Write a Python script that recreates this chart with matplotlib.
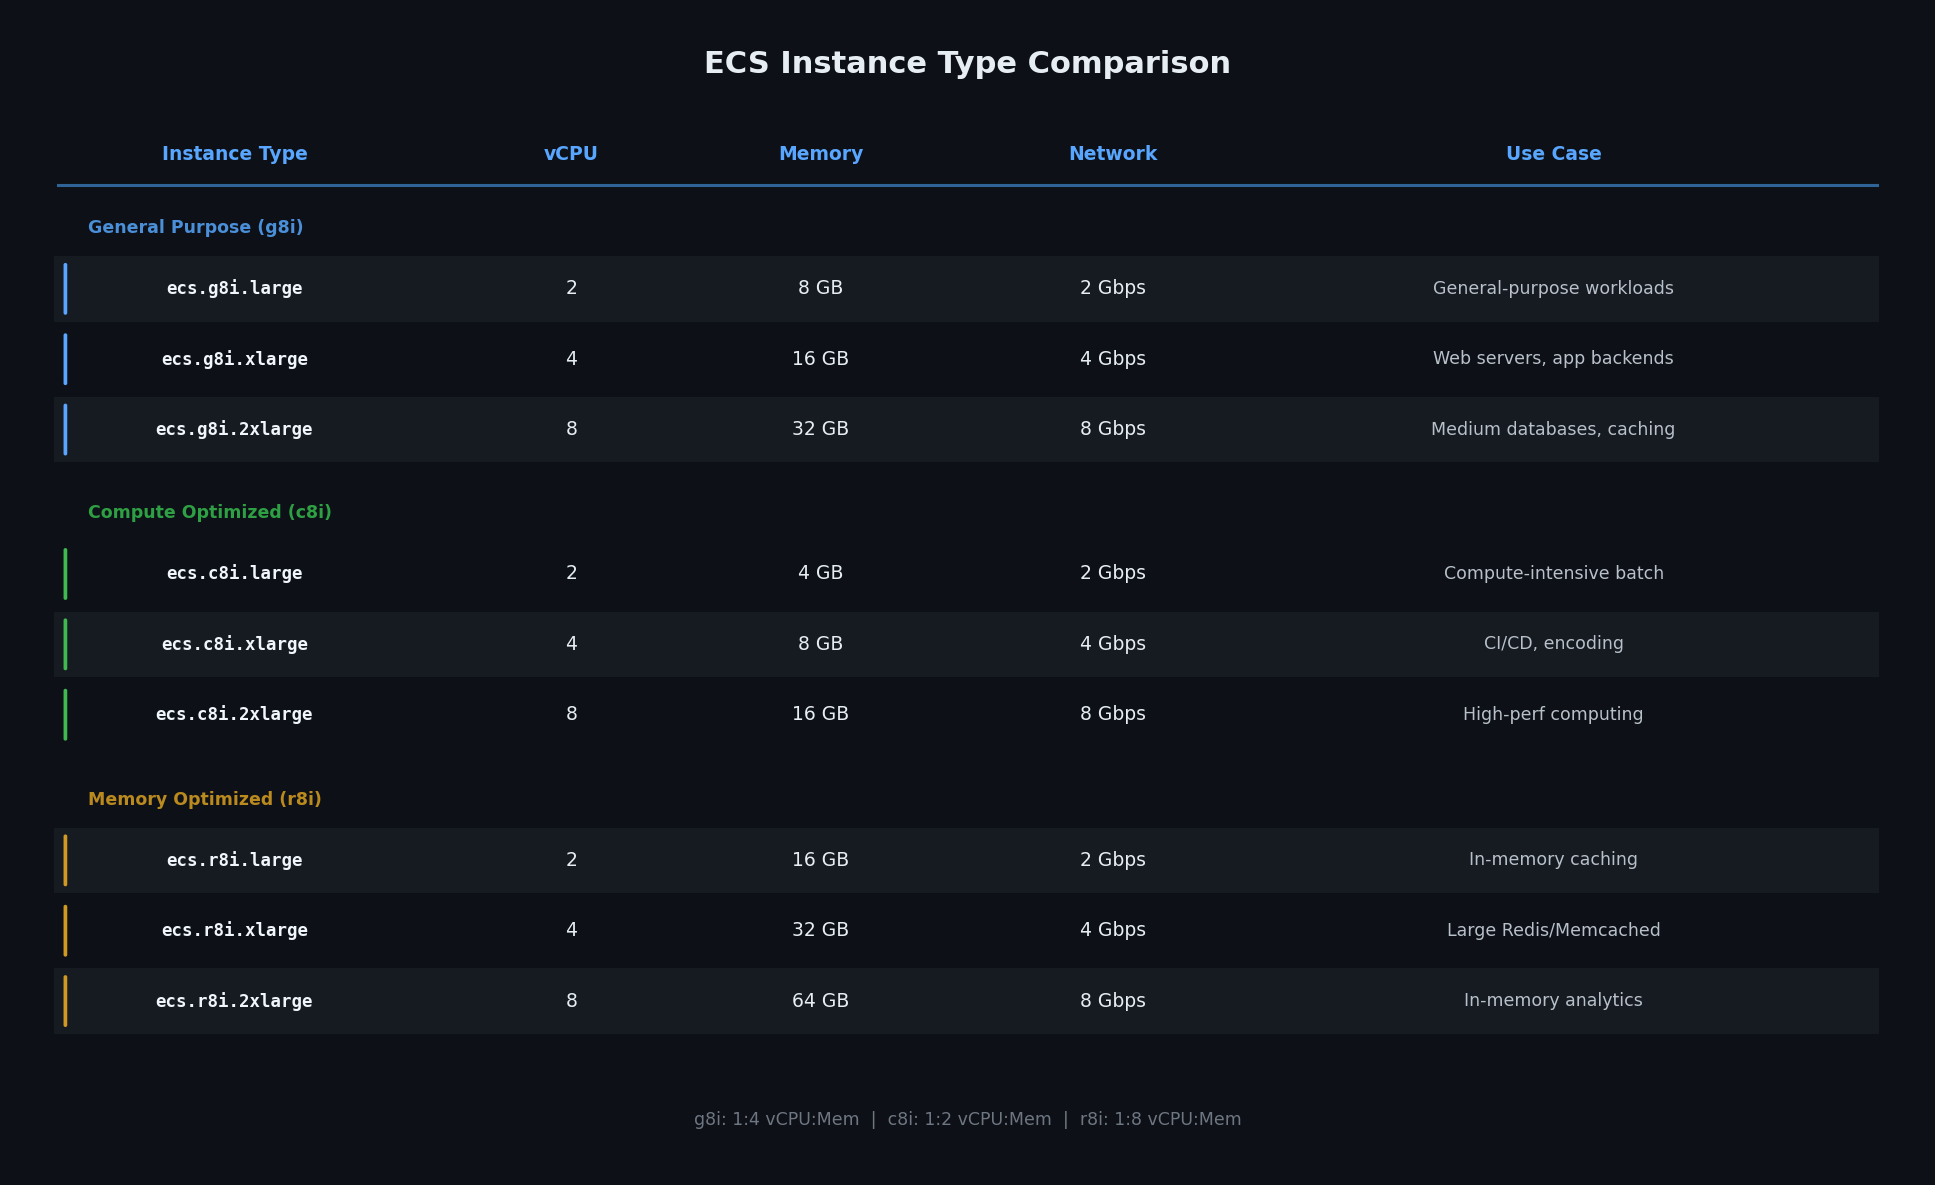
import matplotlib
matplotlib.use("Agg")
import matplotlib.pyplot as plt
from matplotlib.patches import Rectangle, FancyBboxPatch

title = "ECS Instance Type Comparison"
headers = ["Instance Type", "vCPU", "Memory", "Network", "Use Case"]
groups = ["General Purpose (g8i)", "Compute Optimized (c8i)", "Memory Optimized (r8i)"]
instances = [
    ["ecs.g8i.large", "ecs.g8i.xlarge", "ecs.g8i.2xlarge"],
    ["ecs.c8i.large", "ecs.c8i.xlarge", "ecs.c8i.2xlarge"],
    ["ecs.r8i.large", "ecs.r8i.xlarge", "ecs.r8i.2xlarge"],
]
vcpu = [[2, 4, 8], [2, 4, 8], [2, 4, 8]]
memory = [["8 GB", "16 GB", "32 GB"], ["4 GB", "8 GB", "16 GB"], ["16 GB", "32 GB", "64 GB"]]
network = [["2 Gbps", "4 Gbps", "8 Gbps"]] * 3
use_case = [
    ["General-purpose workloads", "Web servers, app backends", "Medium databases, caching"],
    ["Compute-intensive batch", "CI/CD, encoding", "High-perf computing"],
    ["In-memory caching", "Large Redis/Memcached", "In-memory analytics"],
]
footer = "g8i: 1:4 vCPU:Mem  |  c8i: 1:2 vCPU:Mem  |  r8i: 1:8 vCPU:Mem"

BG = "#0d1117"; STRIPE = "#161b22"; HEAD = "#58a6ff"
label_colors = ["#4a8fd8", "#2ea043", "#bb8a1f"]
bar_colors = ["#58a6ff", "#3fb950", "#d29922"]

fig = plt.figure(figsize=(19.35, 11.85), dpi=100, facecolor=BG)
ax = fig.add_axes([0, 0, 1, 1]); ax.set_facecolor(BG)
ax.set_xlim(0, 1568); ax.set_ylim(960, 0); ax.axis("off")

col_x = [190, 463, 665, 902, 1259]
ax.text(784, 52, title, color="#e6edf3", fontsize=22, fontweight="bold", ha="center", va="center")
for x, h in zip(col_x, headers):
    ax.text(x, 125, h, color=HEAD, fontsize=13.5, fontweight="bold", ha="center", va="center")
ax.plot([47, 1521], [150, 150], color="#2f6297", lw=2.2)

group_y = [185, 416, 648]
idx = 0
for g in range(3):
    ax.text(71, group_y[g], groups[g], color=label_colors[g], fontsize=12.5, fontweight="bold", ha="left", va="center")
    for r in range(3):
        y = group_y[g] + 49 + 57 * r
        if idx % 2 == 0:
            ax.add_patch(Rectangle((44, y - 26.5), 1479, 53, color=STRIPE, lw=0))
        ax.add_patch(FancyBboxPatch((51.5, y - 21), 3, 42, boxstyle="round,pad=0,rounding_size=1.5",
                                    color=bar_colors[g], lw=0))
        ax.text(col_x[0], y, instances[g][r], color="#f0f6fc", fontsize=12.5, fontweight="bold",
                family="DejaVu Sans Mono", ha="center", va="center")
        ax.text(col_x[1], y, str(vcpu[g][r]), color="#e6edf3", fontsize=13.5, ha="center", va="center")
        ax.text(col_x[2], y, memory[g][r], color="#e6edf3", fontsize=13.5, ha="center", va="center")
        ax.text(col_x[3], y, network[g][r], color="#e6edf3", fontsize=13.5, ha="center", va="center")
        ax.text(col_x[4], y, use_case[g][r], color="#b8c0c9", fontsize=12.5, ha="center", va="center")
        idx += 1

ax.text(784, 907, footer, color="#6e7681", fontsize=12.5, ha="center", va="center")
fig.savefig("out.png", dpi=100, facecolor=BG)
